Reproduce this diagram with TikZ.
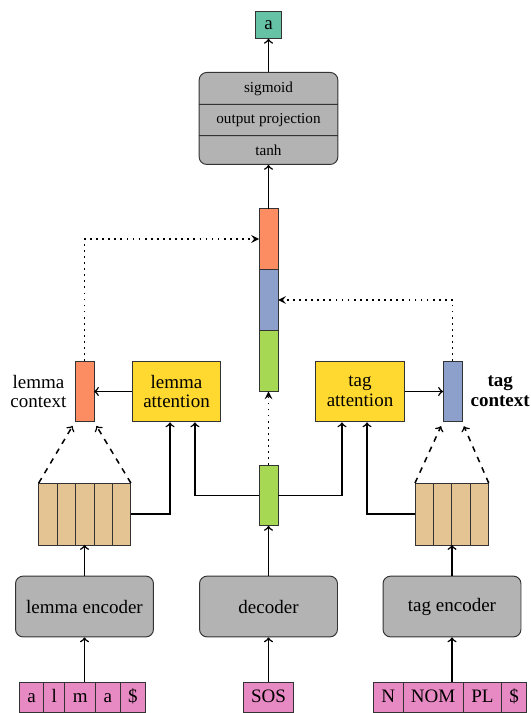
\documentclass[tikz,border=0pt]{standalone}
\usepackage{fontspec}
\setmainfont{Liberation Serif}
\usetikzlibrary{positioning,shapes.multipart}

\definecolor{setteal}{HTML}{66C2A5}
\definecolor{setorange}{HTML}{FC8D62}
\definecolor{setblue}{HTML}{8DA0CB}
\definecolor{setpink}{HTML}{E78AC3}
\definecolor{setgreen}{HTML}{A6D854}
\definecolor{setyellow}{HTML}{FFD92F}
\definecolor{settan}{HTML}{E5C494}
\definecolor{setgray}{HTML}{B3B3B3}

\begin{document}
\begin{tikzpicture}[x=0.5263pt, y=-0.5263pt,
  box/.style={draw=black!80, line width=0.5pt},
  vec/.style={box, minimum width=10pt, minimum height=32pt, inner sep=0pt, outer sep=0pt},
  cell/.style={box, fill=settan, minimum width=9.7pt, minimum height=32.6pt, inner sep=0pt, outer sep=0pt},
  tok/.style={box, fill=setpink, text height=7pt, text depth=2.2pt, inner xsep=4.2pt, inner ysep=3.3pt, outer sep=0pt},
  enc/.style={box, fill=setgray, rounded corners=4pt, minimum width=72.6pt, minimum height=32pt},
  att/.style={box, fill=setyellow, minimum width=46.8pt, minimum height=32pt, align=center, font={\fontsize{10}{10.5}\selectfont}},
  lab/.style={align=center, font={\fontsize{10}{10.5}\selectfont}},
  conn/.style={line width=0.8pt, ->},
  dashconn/.style={line width=0.8pt, dashed, ->, shorten >=2.5pt},
  dotconn/.style={line width=0.8pt, dash pattern=on 0.9pt off 2.3pt, -stealth}]

\useasboundingbox (0,0) rectangle (530,713);

% -------- output -----------
\node [box, fill=setteal, minimum width=13.2pt, minimum height=14pt, inner sep=0pt] (y) at (268.5,25) {a};
\node [box, fill=setgray, rounded corners=4pt, rectangle split, rectangle split parts=3,
       minimum width=73pt, inner ysep=4.5pt, font=\footnotesize, anchor=north] (out) at (268.5,72)
      {sigmoid \nodepart{two} output projection \nodepart{three} tanh};

% -------- concatenated vector -----------
\node [vec, fill=setorange] (catl) at (268.5,239) {};
\node [vec, fill=setblue]   (catt) at (268.5,300) {};
\node [vec, fill=setgreen]  (catd) at (268.5,361) {};

% -------- attention and contexts -----------
\node [vec, fill=setorange] (lctx) at (84.5,391.5) {};
\node [vec, fill=setblue]   (tctx) at (452.5,391.5) {};
\node [att] (latt) at (176.5,391.5) {lemma\\attention};
\node [att] (tatt) at (360,391.5) {tag\\attention};
\node [lab, left=1pt of lctx] (lctxlab) {lemma\\context};
\node [lab, right=1pt of tctx, font={\fontsize{10}{10.5}\selectfont\bfseries}] (tctxlab) {tag\\context};

\node [vec, fill=setgreen] (dvec) at (268.5,495.5) {};

% -------- encoder states -----------
\node [cell, anchor=west] (lst1) at (38.7,514) {};
\foreach \i/\j in {2/1,3/2,4/3,5/4}
  \node [cell, right=0pt of lst\j] (lst\i) {};
\node [cell, anchor=west] (tst1) at (415,514) {};
\foreach \i/\j in {2/1,3/2,4/3}
  \node [cell, right=0pt of tst\j] (tst\i) {};

% -------- encoders and decoder -----------
\node [enc] (lenc) at (84.5,606.5) {lemma encoder};
\node [enc] (dec)  at (268.5,606.5) {decoder};
\node [enc] (tenc) at (452,606.5) {tag encoder};

% -------- inputs -----------
\node [tok, anchor=west] (ltok1) at (19.3,697.5) {a};
\foreach \t [count=\i from 2] in {l,m,a,\$} {
  \pgfmathtruncatemacro\j{\i-1}
  \node [tok, right=0pt of ltok\j] (ltok\i) {\t};
}
\node [tok] (sos) at (268.5,697.5) {SOS};
\node [tok, anchor=west] (ttok1) at (373.3,697.5) {N};
\foreach \t [count=\i from 2] in {NOM,PL,\$} {
  \pgfmathtruncatemacro\j{\i-1}
  \node [tok, right=0pt of ttok\j] (ttok\i) {\t};
}

% -------- connections -----------
\draw [conn] (lenc.south |- ltok1.north) -- (lenc.south);
\draw [conn] (sos) -- (dec);
\draw [conn] (tenc.south |- ttok1.north) -- (tenc.south);
\draw [conn] (lenc.north) -- (lenc.north |- lst1.south);
\draw [conn] (tenc.north) -- (tenc.north |- tst1.south);
\draw [conn] (dec) -- (dvec);

\draw [conn] (lst5.east) -| ([xshift=-3.4pt]latt.south);
\draw [conn] (dvec.west) -| ([xshift=9.7pt]latt.south);
\draw [conn] (dvec.east) -| ([xshift=-9.5pt]tatt.south);
\draw [conn] (tst1.west) -| ([xshift=3.7pt]tatt.south);

\draw [dashconn] (lst1.north west) -- (lctx.south west);
\draw [dashconn] (lst5.north east) -- (lctx.south east);
\draw [dashconn] (tst1.north west) -- (tctx.south west);
\draw [dashconn] (tst4.north east) -- (tctx.south east);

\draw [conn] (latt) -- (lctx);
\draw [conn] (tatt) -- (tctx);

\draw [dotconn] (lctx.north) |- (catl.west);
\draw [dotconn] (tctx.north) |- (catt.east);
\draw [dotconn] (dvec.north) -- (catd.south);

\draw [conn] (catl.north) -- (out.south);
\draw [conn] (out.north) -- (y.south);

\end{tikzpicture}
\end{document}
